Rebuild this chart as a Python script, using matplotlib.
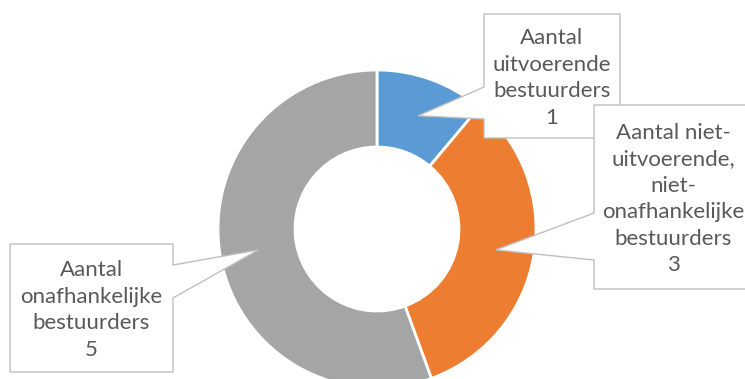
import numpy as np
import matplotlib
matplotlib.use("Agg")
import matplotlib.pyplot as plt
from matplotlib.patches import Polygon

# ==========================================
# Data
# ==========================================

labels = [
    "Aantal\nuitvoerende\nbestuurders",
    "Aantal niet-\nuitvoerende,\nniet-\nonafhankelijke\nbestuurders",
    "Aantal\nonafhankelijke\nbestuurders",
]
values = [1, 3, 5]
colors = ["#5B9BD5", "#ED7D31", "#A5A5A5"]

# ==========================================
# Layout (pixel coordinates, y down)
# ==========================================

W, H = 745, 379
cx, cy = 377, 229
r_out = 159
ring = 77

# box: x0, y0, x1, y1, side of pointer, pointer base (ya, yb)
boxes = [
    (484, 14, 620, 138, "left", 87, 119),
    (594, 105, 752, 289, "left", 213, 260),
    (10, 244, 173, 372, "right", 265, 298),
]

text_col = "#595959"
edge_col = "#BFBFBF"

fig = plt.figure(figsize=(W / 100, H / 100), dpi=100)
ax = fig.add_axes([0, 0, 1, 1])

ax.pie(
    values,
    colors=colors,
    startangle=270,
    counterclock=True,
    radius=r_out,
    center=(cx, cy),
    wedgeprops=dict(width=ring, edgecolor="white", linewidth=2),
)

ax.set_aspect("auto")
ax.set_xlim(0, W)
ax.set_ylim(H, 0)
ax.axis("off")

# ==========================================
# Callouts
# ==========================================

total = sum(values)
start = 0
r_mid = r_out - ring / 2
for i, (lab, val) in enumerate(zip(labels, values)):
    mid = (start + val / 2) / total * 360
    start += val
    a = np.deg2rad(270 + mid)
    tip = (cx + r_mid * np.cos(a), cy + r_mid * np.sin(a))

    x0, y0, x1, y1, side, ya, yb = boxes[i]
    if side == "left":
        pts = [(x0, y0), (x1, y0), (x1, y1), (x0, y1), (x0, yb), tip, (x0, ya)]
    else:
        pts = [(x0, y0), (x1, y0), (x1, ya), tip, (x1, yb), (x1, y1), (x0, y1)]
    poly = Polygon(pts, closed=True, facecolor="white", edgecolor=edge_col,
                   linewidth=1, zorder=3 + i)
    ax.add_patch(poly)

    ax.text((x0 + x1) / 2, (y0 + y1) / 2 + 2, f"{lab}\n{val}",
            ha="center", va="center", fontsize=16, family="Lato",
            color=text_col, linespacing=1.4, zorder=3 + i)

fig.savefig("out.png", dpi=100)
